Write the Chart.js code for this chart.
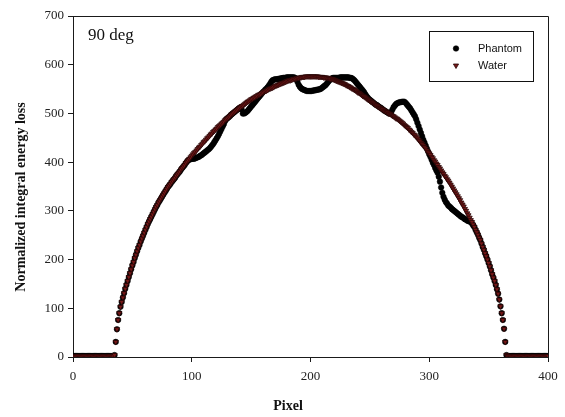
<!DOCTYPE html>
<html>
<head>
<meta charset="utf-8">
<title>90 deg</title>
<script src="https://cdn.jsdelivr.net/npm/chart.js@4.4.1/dist/chart.umd.min.js"></script>
<style>
    body { margin: 0; background: #fff; }
    #grafico { display: block; }
</style>
</head>
<body>
<canvas id="grafico" width="565" height="417"></canvas>
<script>
// x positions: one sample per detector pixel, 0..400
const pixel = Array.from({ length: 401 }, (_, i) => i);

const xTicks = [0, 100, 200, 300, 400];
const yTicks = [0, 100, 200, 300, 400, 500, 600, 700];

// Water (smooth curve), one value per pixel
const water = [
    2,2,2,2,2,2,2,2,2,2, 2,2,2,2,2,2,2,2,2,2,
    2,2,2,2,2,2,2,2,2,2, 2,2,2,2,2,4,31,57,76,90,
    103,113,122,131,140,148,156,164,172,180, 188,195,203,210,217,224,230,237,243,249,
    255,261,267,273,278,283,288,293,298,303, 308,312,317,321,325,329,333,337,341,345,
    349,352,355,359,362,365,368,372,375,378, 381,385,388,391,394,398,401,404,407,410,
    413,416,419,421,424,427,430,432,435,438, 441,443,446,449,451,454,457,459,462,464,
    467,469,472,474,476,479,481,483,486,488, 490,492,494,497,499,501,503,505,507,509,
    511,513,515,516,518,520,522,524,525,527, 529,530,532,533,535,536,538,539,540,542,
    543,545,546,547,548,550,551,552,553,554, 556,557,558,559,560,561,562,563,564,565,
    566,567,568,568,569,570,571,571,572,573, 573,574,574,575,575,575,576,576,576,576,
    576,576,576,576,576,576,576,575,575,575, 575,574,574,574,573,573,572,571,571,570,
    569,568,567,566,565,564,563,562,561,560, 558,557,556,554,553,551,550,548,547,545,
    543,542,540,538,536,535,533,531,529,528, 526,524,523,521,519,517,516,514,512,511,
    509,508,506,505,503,502,500,499,497,495, 494,492,490,489,487,485,483,481,479,476,
    474,472,470,467,465,462,460,457,455,452, 449,446,443,440,437,434,431,428,424,421,
    418,415,411,408,404,401,397,394,390,387, 383,379,376,372,369,365,362,358,354,350,
    346,342,338,334,330,326,322,317,313,309, 304,300,295,291,286,281,277,272,267,261,
    256,251,245,240,233,226,220,213,207,200, 193,186,178,170,163,156,148,139,130,118,
    104,90,76,58,31,4,2,2,2,2, 2,2,2,2,2,2,2,2,2,2,
    2,2,2,2,2,2,2,2,2,2, 2,2,2,2,2,2,2,2,2,2,
    2
];

// Phantom, one value per pixel
const phantom = [
    2,2,2,2,2,2,2,2,2,2, 2,2,2,2,2,2,2,2,2,2,
    2,2,2,2,2,2,2,2,2,2, 2,2,2,2,2,4,31,57,76,90,
    103,113,122,131,140,148,156,164,172,180, 188,195,203,210,217,224,230,237,243,249,
    255,261,267,273,278,283,288,293,298,303, 308,312,317,321,325,329,333,337,341,345,
    349,352,355,359,362,365,368,372,375,378, 381,385,388,391,394,398,401,404,405,406,
    407,407,407,408,409,410,411,413,414,416, 418,420,422,424,426,428,431,434,437,441,
    445,449,453,458,463,468,473,478,484,488, 490,492,494,497,499,501,503,505,507,509,
    511,512,508,500,500,501,503,505,508,511, 514,517,520,523,526,529,532,535,538,541,
    544,546,549,551,554,557,561,565,568,569, 570,570,570,571,571,572,572,573,573,573,
    574,574,574,574,574,574,574,573,570,565, 559,555,552,550,549,548,547,546,546,546,
    546,546,547,547,548,548,549,549,550,551, 553,555,557,559,562,565,568,570,572,573,
    573,573,573,573,573,574,574,574,574,574, 574,574,574,573,573,572,570,568,565,562,
    559,556,553,550,547,544,540,536,533,530, 528,526,524,522,520,518,517,515,513,512,
    510,508,506,505,503,502,500,500,503,508, 513,516,519,521,522,523,523,524,524,524,
    522,519,516,513,510,506,502,498,494,488, 481,474,467,460,453,446,440,434,428,422,
    416,411,405,399,394,388,383,378,370,360, 348,337,329,323,318,315,311,309,307,304,
    302,300,298,296,294,292,290,288,287,285, 283,282,280,279,278,277,274,270,267,261,
    256,251,245,240,233,226,220,213,207,200, 193,186,178,170,163,156,148,139,130,118,
    104,90,76,58,31,4,2,2,2,2, 2,2,2,2,2,2,2,2,2,2,
    2,2,2,2,2,2,2,2,2,2, 2,2,2,2,2,2,2,2,2,2,
    2
];

const seriesNames = ['Phantom', 'Water'];
const chartTitle = '90 deg';
const xTitle = 'Pixel';
const yTitle = 'Normalized integral energy loss';

const serif = '"Liberation Serif", "Times New Roman", serif';
const sans = '"Liberation Sans", Arial, sans-serif';

const phantomStyle = { pointStyle: 'circle', rotation: 0, radius: 2.8, borderWidth: 0.5, fill: '#000', stroke: '#000' };
const waterStyle = { pointStyle: 'triangle', rotation: 180, radius: 3, borderWidth: 0.8, fill: '#761818', stroke: '#2a0606' };

function toPoints(values) {
    return values.map(function (v, i) { return { x: pixel[i], y: v }; });
}

// top/right frame, "90 deg" label, axis titles and the boxed legend
const decorPlugin = {
    id: 'decor',
    afterDraw: function (chart) {
        const ctx = chart.ctx;
        const a = chart.chartArea;
        ctx.save();

        ctx.strokeStyle = '#1a1a1a';
        ctx.lineWidth = 1;
        ctx.beginPath();
        ctx.moveTo(Math.round(a.left) + 0.5, Math.round(a.top) + 0.5);
        ctx.lineTo(Math.round(a.right) + 0.5, Math.round(a.top) + 0.5);
        ctx.lineTo(Math.round(a.right) + 0.5, Math.round(a.bottom) + 0.5);
        ctx.stroke();

        ctx.fillStyle = '#111';
        ctx.font = '17px ' + serif;
        ctx.textAlign = 'left';
        ctx.textBaseline = 'alphabetic';
        ctx.fillText(chartTitle, 88, 40);

        ctx.font = 'bold 14px ' + serif;
        ctx.textAlign = 'center';
        ctx.fillText(xTitle, 288, 410);

        ctx.save();
        ctx.translate(25, 197);
        ctx.rotate(-Math.PI / 2);
        ctx.textBaseline = 'alphabetic';
        ctx.fillText(yTitle, 0, 0);
        ctx.restore();

        // legend box
        ctx.strokeStyle = '#111';
        ctx.lineWidth = 1;
        ctx.strokeRect(429.5, 31.5, 104, 50);
        const styles = [phantomStyle, waterStyle];
        const rows = [48.5, 65.5];
        ctx.font = '11px ' + sans;
        ctx.textAlign = 'left';
        ctx.textBaseline = 'middle';
        for (let i = 0; i < seriesNames.length; i++) {
            const s = styles[i];
            ctx.fillStyle = s.fill;
            ctx.strokeStyle = s.stroke;
            ctx.lineWidth = s.borderWidth;
            Chart.helpers.drawPoint(ctx, { pointStyle: s.pointStyle, rotation: s.rotation, radius: s.radius, borderWidth: s.borderWidth }, 456, rows[i]);
            ctx.fillStyle = '#111';
            ctx.fillText(seriesNames[i], 478, rows[i]);
        }
        ctx.restore();
    }
};

const ctx = document.getElementById('grafico').getContext('2d');
const chart = new Chart(ctx, {
    type: 'scatter',
    data: {
        datasets: [
            {
                label: seriesNames[0],
                data: toPoints(phantom),
                order: 1,
                pointStyle: phantomStyle.pointStyle,
                pointRadius: phantomStyle.radius,
                pointBorderWidth: phantomStyle.borderWidth,
                backgroundColor: phantomStyle.fill,
                borderColor: phantomStyle.stroke,
                showLine: false
            },
            {
                label: seriesNames[1],
                data: toPoints(water),
                order: 0,
                pointStyle: waterStyle.pointStyle,
                pointRotation: waterStyle.rotation,
                pointRadius: waterStyle.radius,
                pointBorderWidth: waterStyle.borderWidth,
                backgroundColor: waterStyle.fill,
                borderColor: waterStyle.stroke,
                showLine: false
            }
        ]
    },
    options: {
        responsive: false,
        animation: false,
        devicePixelRatio: 1,
        layout: { padding: { top: 16, right: 17, bottom: 0, left: 0 } },
        plugins: {
            legend: { display: false },
            tooltip: { enabled: false }
        },
        scales: {
            x: {
                type: 'linear',
                min: 0,
                max: 400,
                afterFit: function (scale) { scale.height = 60; },
                afterBuildTicks: function (scale) { scale.ticks = xTicks.map(function (v) { return { value: v }; }); },
                grid: { drawOnChartArea: false, drawTicks: true, tickLength: 5, tickColor: '#1a1a1a' },
                border: { display: true, color: '#1a1a1a', width: 1 },
                ticks: { color: '#222', padding: 7, font: { family: serif, size: 13 } }
            },
            y: {
                type: 'linear',
                min: 0,
                max: 700,
                afterFit: function (scale) { scale.width = 73; },
                afterBuildTicks: function (scale) { scale.ticks = yTicks.map(function (v) { return { value: v }; }); },
                grid: { drawOnChartArea: false, drawTicks: true, tickLength: 5, tickColor: '#1a1a1a' },
                border: { display: true, color: '#1a1a1a', width: 1 },
                ticks: { color: '#222', padding: 4, font: { family: serif, size: 13 } }
            }
        }
    },
    plugins: [decorPlugin]
});
</script>
</body>
</html>
